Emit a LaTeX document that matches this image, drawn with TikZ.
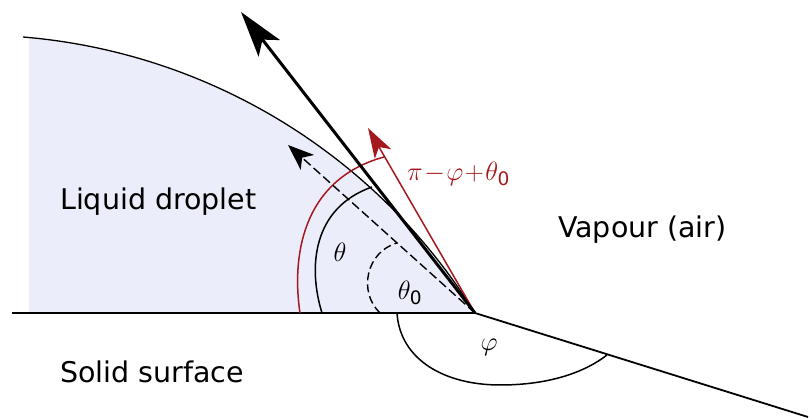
\RequirePackage{fix-cm}
\documentclass[tikz,border=0pt]{standalone}
\usepackage{amsmath}
\usepackage{fontspec}
\setmainfont{DejaVu Sans}
\usetikzlibrary{arrows.meta}
\definecolor{dropfill}{RGB}{236,237,250}
\definecolor{angred}{RGB}{165,25,30}

\begin{document}
\begin{tikzpicture}[x=1pt,y=1pt,
  region/.style={inner sep=0pt,anchor=base west,font=\fontsize{28.5}{34}\selectfont},
  anglabel/.style={inner sep=0pt,font=\fontsize{26.5}{30}\selectfont}]
  \useasboundingbox (0,0) rectangle (810,419);
  \coordinate (P) at (475,106);
  \coordinate (T) at (241,407);
  \coordinate (D) at (288,274);
  \coordinate (R) at (368,291);
  % droplet
  \fill[dropfill] (29,381.5) arc[start angle=84.7,end angle=31.9,radius=589.5] -- (29,106) -- cycle;
  \draw[line width=1.3pt] (23,382) arc[start angle=85.28,end angle=31.9,radius=589.5];
  % solid surface
  \draw[line width=1.8pt] (12,106) -- (P) -- (808,2);
  % angles
  \draw[angred,line width=1.5pt] (300,106) .. controls (292,159) and (300,239) .. (384,262);
  \draw[line width=1.5pt] (322,106) .. controls (308,151) and (312,211) .. (372,232);
  \draw[line width=1.4pt,dash pattern=on 8pt off 4pt] (380,106) .. controls (358,127) and (366,167) .. (397,176);
  \draw[line width=1.5pt] (397,106) .. controls (400,59) and (445,34) .. (500,34)
    .. controls (550,34) and (585,47) .. (607,64);
  % vectors
  \draw[-{Stealth[length=26pt,width=20pt,inset=7pt]},line width=1.4pt,dash pattern=on 9pt off 4pt] (P) -- (D);
  \draw[angred,-{Stealth[length=30pt,width=19pt,inset=8pt]},line width=1.5pt] (P) -- (R);
  \draw[-{Stealth[length=46pt,width=27pt,inset=11pt]},line width=3pt] (P) -- (T);
  % labels
  \node[anglabel] (th) at (340,167) {$\theta$};
  \node[anglabel] (th0) at (410,126) {$\theta_{\text{0}}$};
  \node[anglabel] (ph) at (489,72) {$\varphi$};
  \node[anglabel,anchor=west,text=angred] (sum) at (407,245) {$\pi\!-\!\varphi\!+\!\theta_{\text{0}}$};
  \node[region] (liq) at (60,209) {Liquid droplet};
  \node[region] (vap) at (558,181) {Vapour (air)};
  \node[region] (sol) at (60,36) {Solid surface};
\end{tikzpicture}
\end{document}
